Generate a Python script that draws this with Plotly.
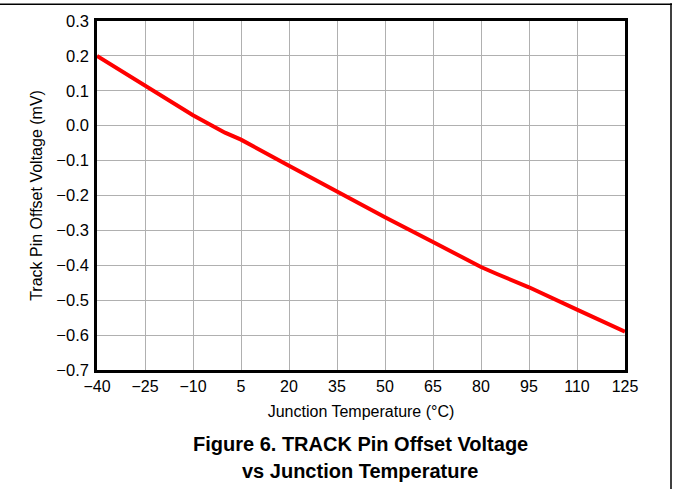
import plotly.graph_objects as go

# Data
temperature_c = [-40, -25, -10, 0, 5, 20, 35, 50, 65, 80, 85, 95, 110, 125]
offset_mv = [0.200, 0.115, 0.030, -0.020, -0.040, -0.115, -0.190, -0.262, -0.333, -0.405, -0.425, -0.463, -0.527, -0.590]

x_ticks = [-40, -25, -10, 5, 20, 35, 50, 65, 80, 95, 110, 125]
x_tick_text = ["\u221240", "\u221225", "\u221210", "5", "20", "35", "50", "65", "80", "95", "110", "125"]
y_ticks = [0.3, 0.2, 0.1, 0.0, -0.1, -0.2, -0.3, -0.4, -0.5, -0.6, -0.7]
y_tick_text = ["0.3", "0.2", "0.1", "0.0", "\u22120.1", "\u22120.2", "\u22120.3", "\u22120.4", "\u22120.5", "\u22120.6", "\u22120.7"]

W, H = 673, 490
L, R, T, B = 97, 48, 18, 120
pw, ph = W - L - R, H - T - B

def px_to_paper_x(px):
    return (px - L) / pw

def px_to_paper_y(py):
    return (H - B - py) / ph

fig = go.Figure()
fig.add_trace(go.Scatter(
    x=temperature_c, y=offset_mv, mode="lines",
    line=dict(color="#FF0000", width=4), showlegend=False,
))

font_family = "Liberation Sans, Arial, sans-serif"

fig.update_layout(
    width=W, height=H,
    margin=dict(l=L, r=R, t=T, b=B),
    paper_bgcolor="white", plot_bgcolor="white",
    font=dict(family=font_family, color="black"),
    xaxis=dict(
        range=[-40, 125], tickmode="array", tickvals=x_ticks, ticktext=x_tick_text,
        showgrid=True, gridcolor="#B0B0B0", gridwidth=1,
        showline=True, linecolor="black", linewidth=2.5, mirror=True,
        ticks="", tickfont=dict(size=16), zeroline=False,
        title=dict(text="Junction Temperature (\u00b0C)", font=dict(size=16), standoff=12),
    ),
    yaxis=dict(
        range=[-0.7, 0.3], tickmode="array", tickvals=y_ticks, ticktext=y_tick_text,
        showgrid=True, gridcolor="#B0B0B0", gridwidth=1,
        showline=True, linecolor="black", linewidth=2.5, mirror=True,
        ticks="", tickfont=dict(size=16.5), zeroline=False, ticklabelstandoff=2,
        title=dict(text="Track Pin Offset Voltage (mV)", font=dict(size=16), standoff=10),
    ),
    annotations=[
        dict(text="<b>Figure 6. TRACK Pin Offset Voltage</b>", xref="paper", yref="paper",
             x=px_to_paper_x(360), y=px_to_paper_y(445), showarrow=False,
             font=dict(size=20, family=font_family), xanchor="center", yanchor="middle"),
        dict(text="<b>vs Junction Temperature</b>", xref="paper", yref="paper",
             x=px_to_paper_x(360), y=px_to_paper_y(472), showarrow=False,
             font=dict(size=20, family=font_family), xanchor="center", yanchor="middle"),
    ],
    shapes=[
        dict(type="line", xref="paper", yref="paper",
             x0=px_to_paper_x(0), x1=px_to_paper_x(672), y0=px_to_paper_y(1), y1=px_to_paper_y(1),
             line=dict(color="black", width=1.5)),
        dict(type="line", xref="paper", yref="paper",
             x0=px_to_paper_x(671), x1=px_to_paper_x(671), y0=px_to_paper_y(0), y1=px_to_paper_y(490),
             line=dict(color="black", width=1.5)),
    ],
)

fig.write_html("out.html", config={"displayModeBar": False},
               post_script="document.body.style.margin='0';")
